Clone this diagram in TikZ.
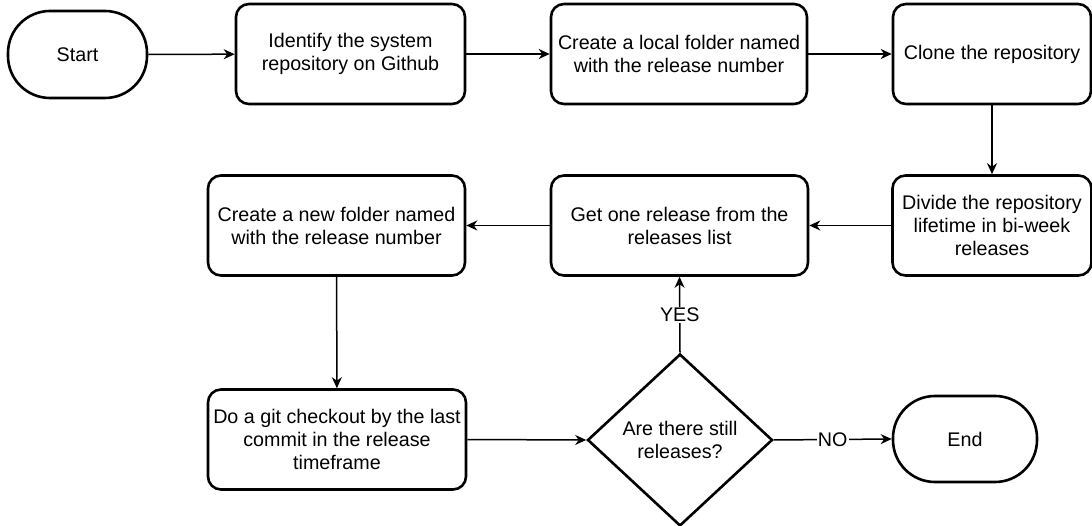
\documentclass[tikz,border=0pt]{standalone}
\usepackage{fontspec}
\setmainfont{Liberation Sans}
\usetikzlibrary{shapes.geometric,arrows.meta}
\begin{document}
\begin{tikzpicture}[x=1pt,y=-1pt,
  txt/.style={font=\fontsize{19.7}{23}\selectfont, text=black},
  box/.style={txt, draw, line width=2.6pt, rounded corners=13pt, minimum height=100pt, inner sep=0pt, align=center},
  term/.style={txt, draw, line width=2.6pt, rounded corners=42pt, inner sep=0pt, align=center},
  decision/.style={txt, draw, line width=2.6pt, diamond, inner sep=0pt, align=center, minimum width=185pt, minimum height=172pt},
  conn/.style={line width=1.5pt, -{Stealth[length=11pt,width=10pt,inset=3.5pt]}},
  lbl/.style={txt, fill=white, inner sep=1pt}]
\useasboundingbox (0,0) rectangle (1092,526);

\node[term, minimum width=139pt, minimum height=87pt] (start) at (77.5,54.5) {Start};
\node[box, minimum width=229pt] (b1) at (350.5,54) {Identify the system\\repository on Github};
\node[box, minimum width=256pt] (b2) at (679,54) {Create a local folder named\\with the release number};
\node[box, minimum width=198pt] (b3) at (992,54) {Clone the repository};
\node[box, minimum width=199pt] (b4) at (992,225.5) {Divide the repository\\lifetime in bi-week\\releases};
\node[box, minimum width=257pt] (b5) at (679.5,225.5) {Get one release from the\\releases list};
\node[box, minimum width=257pt] (b6) at (336.5,225.5) {Create a new folder named\\with the release number};
\node[box, minimum width=258pt] (b7) at (337,439.5) {Do a git checkout by the last\\commit in the release\\timeframe};
\node[decision] (d) at (680,440) {Are there still\\releases?};
\node[term, minimum width=144pt, minimum height=86pt] (end) at (965,439) {End};

\draw[conn] (start) -- (b1);
\draw[conn] (b1) -- (b2);
\draw[conn] (b2) -- (b3);
\draw[conn] (b3) -- (b4);
\draw[conn] (b4) -- (b5);
\draw[conn] (b5) -- (b6);
\draw[conn] (b6) -- (b7);
\draw[conn] (b7.east) -- (d.west);
\draw[conn] (d.north) -- node[lbl, pos=0.5] (yes) {YES} (b5.south);
\draw[conn] (d.east) -- node[lbl, pos=0.5] (no) {NO} (end.west);
\end{tikzpicture}
\end{document}
